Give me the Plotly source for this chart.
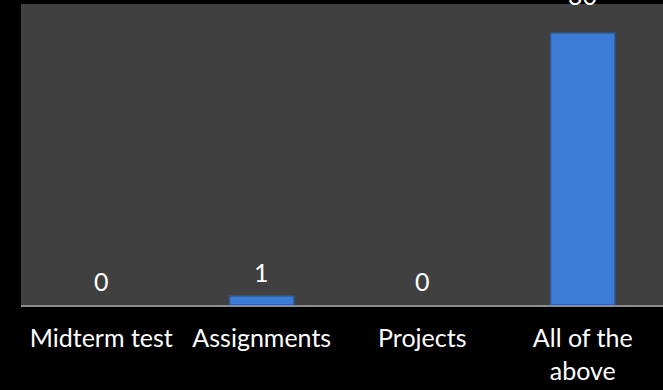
import plotly.graph_objects as go

categories = ["Midterm test", "Assignments", "Projects", "All of the<br>above"]
values = [0, 1, 0, 30]
label_texts = ["0", "1", "0", "30"]

label_shift = [7, 7, 7, 21]

fig = go.Figure()
fig.add_trace(go.Bar(
    x=categories,
    y=values,
    marker=dict(
        color="#3D7CD6",
        line=dict(color="#2A5A9C", width=[1.5 if v else 0 for v in values]),
    ),
    width=0.4,
    hoverinfo="skip",
))

for c, v, t, s in zip(categories, values, label_texts, label_shift):
    fig.add_annotation(
        x=c, y=v, text=t, showarrow=False, yanchor="bottom", yshift=s,
        font=dict(family="Lato", size=25, color="white"),
    )

fig.update_layout(
    width=663, height=390,
    margin=dict(l=21, r=0, t=4, b=85),
    paper_bgcolor="black",
    plot_bgcolor="#404040",
    showlegend=False,
    xaxis=dict(
        showgrid=False, zeroline=False,
        showline=True, linecolor="#8C8C8C", linewidth=2,
        ticks="", tickfont=dict(family="Lato", size=25, color="white"),
        ticklabelstandoff=10,
    ),
    yaxis=dict(
        range=[0, 33.2], showgrid=False, zeroline=False,
        showticklabels=False, showline=False,
    ),
)

fig.write_html(
    "out.html",
    config={"displayModeBar": False},
    post_script="document.body.style.margin='0';document.body.style.overflow='hidden';",
)
